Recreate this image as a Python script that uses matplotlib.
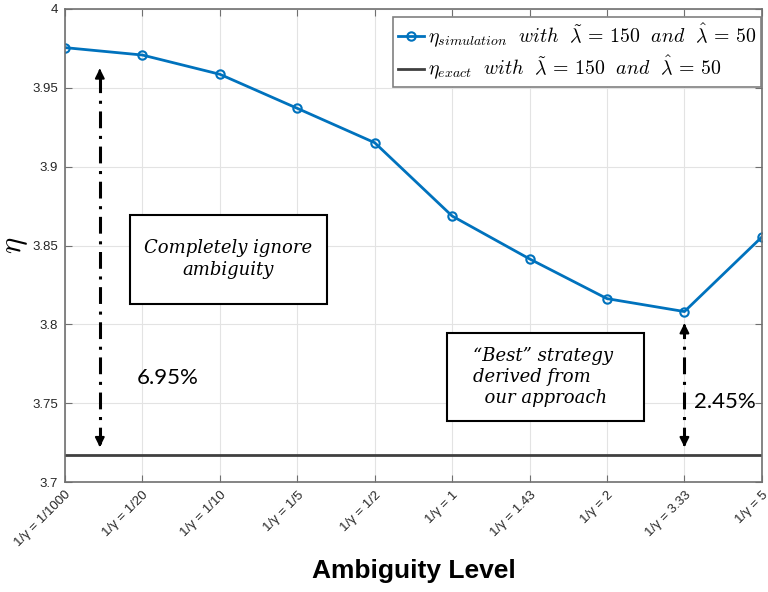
import numpy as np
import matplotlib
matplotlib.use('Agg')
import matplotlib.pyplot as plt
from matplotlib.patches import Rectangle

plt.rcParams['mathtext.fontset'] = 'cm'
plt.rcParams['font.family'] = ['Liberation Sans', 'DejaVu Sans']

# ── data ──
levels = ['1/γ = 1/1000', '1/γ = 1/20', '1/γ = 1/10', '1/γ = 1/5', '1/γ = 1/2',
          '1/γ = 1', '1/γ = 1.43', '1/γ = 2', '1/γ = 3.33', '1/γ = 5']
eta_sim = [3.9755, 3.9708, 3.9586, 3.9370, 3.9152, 3.8687, 3.8415, 3.8163, 3.8081, 3.8554]
eta_exact = 3.7170
gap_ignore = '6.95%'
gap_best = '2.45%'

x = np.arange(1, len(levels) + 1)
blue = '#0072BD'
axcol = '#707070'

fig = plt.figure(figsize=(7.68, 5.92), dpi=100)
ax = fig.add_axes([0.0846, 0.1858, 0.9074, 0.799])

ax.plot(x, eta_sim, '-o', color=blue, lw=2, ms=6, mfc='none', mew=1.5,
        label=r'$\eta_{simulation}\ \ with\ \ \tilde{\lambda}\,=\,150\ \ and\ \ \hat{\lambda}\,=\,50$')
ax.axhline(eta_exact, color='#404040', lw=2,
           label=r'$\eta_{exact}\ \ with\ \ \tilde{\lambda}\,=\,150\ \ and\ \ \hat{\lambda}\,=\,50$')

ax.set_xlim(1, len(levels))
ax.set_ylim(3.7, 4.0)
ax.set_xticks(x)
ax.set_xticklabels(levels, rotation=45, ha='right', rotation_mode='anchor',
                   fontsize=9.5, color='#262626')
ax.set_yticks([3.7, 3.75, 3.8, 3.85, 3.9, 3.95, 4.0])
ax.set_yticklabels(['3.7', '3.75', '3.8', '3.85', '3.9', '3.95', '4'],
                   fontsize=9.5, color='#262626')
ax.tick_params(direction='in', top=True, right=True, length=5, color=axcol, pad=5)
ax.grid(True, color='#e3e3e3', lw=0.8)
for s in ax.spines.values():
    s.set_color(axcol)
    s.set_linewidth(1.2)

ax.set_xlabel('Ambiguity Level', fontsize=19, fontweight='bold', labelpad=7)
ax.set_ylabel(r'$\eta$', fontsize=22, rotation=90, labelpad=2)

leg = ax.legend(loc='upper right', fontsize=14.3, handlelength=1.3, handletextpad=0.2,
                borderpad=0.25, labelspacing=0.2, fancybox=False, framealpha=1,
                edgecolor='#808080', bbox_to_anchor=(0.999, 0.983), borderaxespad=0)
leg.get_frame().set_linewidth(1.2)

# ── dash-dot arrows marking the gaps ──
def gap_arrow(xp, y0, y1):
    ax.plot([xp, xp], [y0 + 0.004, y1 - 0.004], color='k', lw=2.2,
            ls=(0, (5.5, 2.5, 1, 2.5)), zorder=4)
    ax.annotate('', xy=(xp, y1), xytext=(xp, y1 - 0.006),
                arrowprops=dict(arrowstyle='-|>', color='k', lw=1.5, mutation_scale=14))
    ax.annotate('', xy=(xp, y0), xytext=(xp, y0 + 0.006),
                arrowprops=dict(arrowstyle='-|>', color='k', lw=1.5, mutation_scale=14))

gap_arrow(1.45, 3.7204, 3.9640)
gap_arrow(9, 3.7204, 3.8024)

# ── note boxes ──
ax.add_patch(Rectangle((1.839, 3.8129), 2.544, 0.0565, facecolor='white',
                       edgecolor='k', lw=1.5, zorder=5))
ax.text(3.11, 3.8415, 'Completely ignore\nambiguity', ha='center', va='center',
        family='DejaVu Serif', style='italic', fontsize=13, linespacing=1.3, zorder=6)

ax.add_patch(Rectangle((5.933, 3.7387), 2.544, 0.0558, facecolor='white',
                       edgecolor='k', lw=1.5, zorder=5))
ax.text(6.27, 3.7665, '\u201cBest\u201d strategy\nderived from\n  our approach', ha='left',
        va='center', family='DejaVu Serif', style='italic', fontsize=13,
        linespacing=1.2, zorder=6)

ax.text(1.93, 3.766, gap_ignore, ha='left', va='center', family='Lato', fontsize=16)
ax.text(9.12, 3.751, gap_best, ha='left', va='center', family='Lato', fontsize=16)

fig.savefig('out.png', dpi=100, facecolor='white')
